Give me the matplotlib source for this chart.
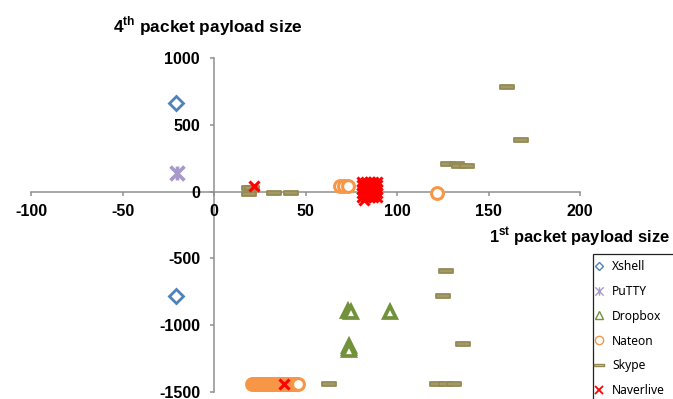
import matplotlib
matplotlib.use("Agg")
import matplotlib.pyplot as plt
from matplotlib.path import Path
from matplotlib.lines import Line2D
from matplotlib.patches import Rectangle

plt.rcParams['font.family'] = ['Liberation Sans', 'DejaVu Sans']
plt.rcParams['axes.unicode_minus'] = False
plt.rcParams['mathtext.fontset'] = 'custom'
plt.rcParams['mathtext.rm'] = 'Liberation Sans:bold'
plt.rcParams['mathtext.bf'] = 'Liberation Sans:bold'

# ---- data (1st payload size, 4th payload size) ----
xshell_x = [-21, -21]
xshell_y = [665, -780]

putty_x = [-20]
putty_y = [140]

dropbox_x = [73, 75, 96, 74, 74, 74]
dropbox_y = [-895, -900, -905, -1160, -1175, -1190]

nateon_x = [69, 71, 73, 122,
            21, 22, 23, 24, 25, 26, 27, 28, 29, 30, 31, 32, 33, 34, 35, 36, 37, 38, 39, 40,
            41, 42, 43, 44, 45, 46]
nateon_y = [45, 45, 45, -8,
            -1440, -1440, -1440, -1440, -1440, -1440, -1440, -1440, -1440, -1440, -1440, -1440,
            -1440, -1440, -1440, -1440, -1440, -1440, -1440, -1440, -1440, -1440, -1440, -1440,
            -1440, -1440]

skype_x = [19, 21, 19, 33, 42, 63, 122, 127, 131, 136, 125, 127, 128, 133, 134, 138, 160, 168]
skype_y = [30, 30, -15, -13, -13, -1445, -1445, -1445, -1445, -1140, -785, -592, 205, 205, 190, 190, 783, 390]

naver_x = [22, 38, 81, 83, 85, 87, 89, 81, 83, 85, 87, 89, 81, 83, 85, 87, 89,
           81, 83, 85, 87, 89, 81, 83, 85, 87, 89, 82]
naver_y = [40, -1440, -40, -40, -40, -40, -40, -10, -10, -10, -10, -10, 20, 20, 20, 20, 20,
           50, 50, 50, 50, 50, 75, 75, 75, 75, 75, -60]

labels = ['Xshell', 'PuTTY', 'Dropbox', 'Nateon', 'Skype', 'Naverlive']
xticks = [-100, -50, 0, 50, 100, 150, 200]
yticks = [-1500, -1000, -500, 0, 500, 1000]

# ---- styles ----
c_xshell = '#4F81BD'
c_putty = '#A799C9'
c_dropbox = '#71923A'
c_nateon = '#F79646'
c_skype = '#948A54'
c_naver = '#FF0000'

star = Path([(-1, -1), (1, 1), (-1, 1), (1, -1), (0, -1), (0, 1)],
            [Path.MOVETO, Path.LINETO, Path.MOVETO, Path.LINETO, Path.MOVETO, Path.LINETO])
dash = Path([(-1, -0.22), (1, -0.22), (1, 0.22), (-1, 0.22), (-1, -0.22)],
            [Path.MOVETO, Path.LINETO, Path.LINETO, Path.LINETO, Path.CLOSEPOLY])

W, H = 673, 399
fig = plt.figure(figsize=(W / 100, H / 100), dpi=100)
ax = fig.add_axes([31 / W, 1 - 391.7 / H, 549 / W, 333.4 / H])
ax.set_xlim(-100, 200)
ax.set_ylim(-1500, 1000)

ax.plot(xshell_x, xshell_y, ls='none', marker='D', ms=7, mew=2.0, mec=c_xshell, mfc='white', zorder=3)
ax.plot(putty_x, putty_y, ls='none', marker=star, ms=10, mew=2.6, mec=c_putty, zorder=3)
ax.plot(dropbox_x, dropbox_y, ls='none', marker='^', ms=9, mew=2.7, mec=c_dropbox, mfc='white', zorder=3)
ax.plot(nateon_x, nateon_y, ls='none', marker='o', ms=8.5, mew=2.2, mec=c_nateon, mfc='white', zorder=3)
ax.plot(skype_x, skype_y, ls='none', marker=dash, ms=10, mew=1.3, mec=c_skype, mfc='#A39A68', zorder=3)
ax.plot(naver_x, naver_y, ls='none', marker='x', ms=6.5, mew=2.2, mec=c_naver, zorder=4)

for s in ['top', 'right']:
    ax.spines[s].set_visible(False)
for s in ['left', 'bottom']:
    ax.spines[s].set_position(('data', 0))
    ax.spines[s].set_color('#8f8f8f')
    ax.spines[s].set_linewidth(1.1)
    ax.spines[s].set_zorder(1)

ax.set_xticks(xticks)
ax.set_xticklabels([str(v) for v in xticks])
ax.set_yticks(yticks)
ax.set_yticklabels([str(v) for v in yticks])
ax.tick_params(axis='x', direction='out', length=3, width=1.1, color='#8f8f8f', pad=6,
               labelsize=11.5)
ax.tick_params(axis='y', direction='out', length=3, width=1.1, color='#8f8f8f', pad=7,
               labelsize=11.5)
for t in ax.get_xticklabels() + ax.get_yticklabels():
    t.set_fontweight('bold')

fig.text(113 / W, 1 - 32 / H, r'4$^{\mathrm{th}}$ packet payload size', fontsize=12.4,
         fontweight='bold', va='baseline', ha='left')
fig.text(489 / W, 1 - 243 / H, r'1$^{\mathrm{st}}$ packet payload size', fontsize=11.9,
         fontweight='bold', va='baseline', ha='left')

# legend
handles = [
    Line2D([], [], ls='none', marker='D', ms=4, mew=1, mec=c_xshell, mfc='white'),
    Line2D([], [], ls='none', marker=star, ms=6, mew=1, mec=c_putty),
    Line2D([], [], ls='none', marker='^', ms=6, mew=1, mec=c_dropbox, mfc='white'),
    Line2D([], [], ls='none', marker='o', ms=6, mew=1, mec=c_nateon, mfc='white'),
    Line2D([], [], ls='none', marker=dash, ms=7, mew=1, mec=c_skype, mfc='#D9D4B5'),
    Line2D([], [], ls='none', marker='x', ms=6, mew=1.3, mec=c_naver),
]
leg = fig.legend(handles, labels, loc='upper left', bbox_to_anchor=(592.8 / W, 1 - 260 / H),
                 frameon=False, borderpad=0, borderaxespad=0, handlelength=1.0,
                 handletextpad=0.6, labelspacing=0.98,
                 prop={'family': 'Noto Sans', 'size': 8.7})
fig.add_artist(Rectangle((592.5 / W, -0.05), 0.2, 1 - 254 / H + 0.05, transform=fig.transFigure,
                         fill=False, edgecolor='#222222', linewidth=0.9, clip_on=False))

fig.savefig('out.png', dpi=100)
